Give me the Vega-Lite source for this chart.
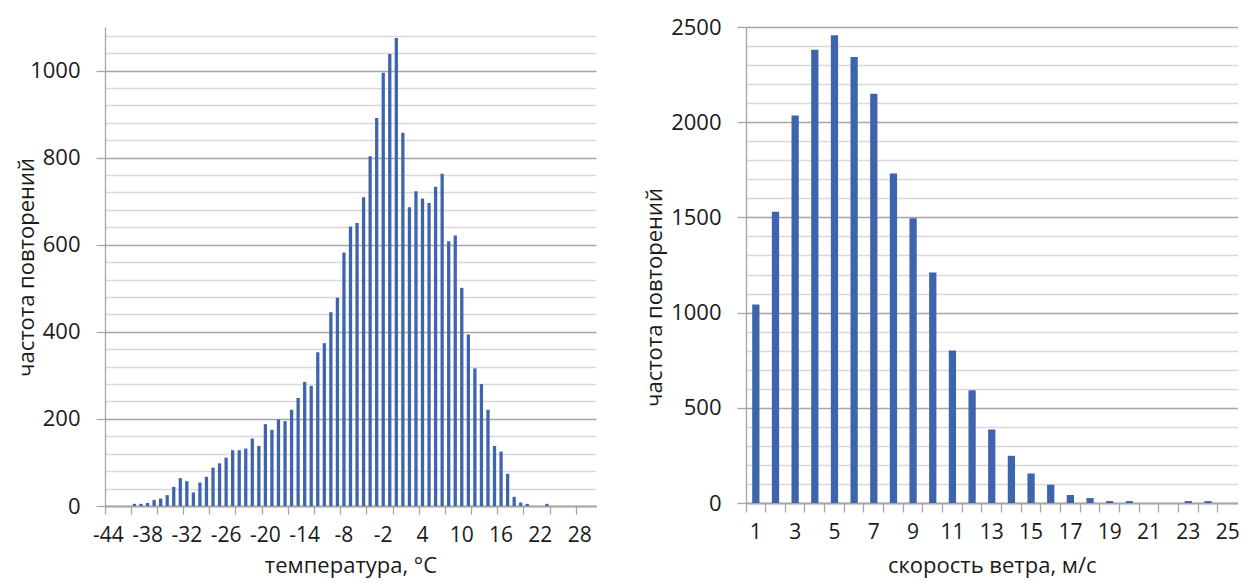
{
  "$schema": "https://vega.github.io/schema/vega-lite/v6.json",
  "autosize": {"type": "pad"},
  "padding": {"left": 15, "top": 16, "right": 0, "bottom": 4},
  "background": "white",
  "spacing": 47,
  "config": {
    "view": {"stroke": null},
    "font": "Open Sans",
    "axis": {
      "labelFont": "Open Sans",
      "titleFont": "Open Sans",
      "labelFontSize": 22,
      "titleFontSize": 22,
      "titleFontWeight": "normal",
      "labelColor": "#1a1a1a",
      "titleColor": "#1a1a1a",
      "domainColor": "#a6a6a6",
      "tickColor": "#a6a6a6",
      "domainWidth": 1.3,
      "tickWidth": 1.3
    }
  },
  "datasets": {
    "temp": [
      {"t": -40, "n": 5}, {"t": -39, "n": 5}, {"t": -38, "n": 7}, {"t": -37, "n": 14},
      {"t": -36, "n": 17}, {"t": -35, "n": 25}, {"t": -34, "n": 44}, {"t": -33, "n": 64},
      {"t": -32, "n": 57}, {"t": -31, "n": 31}, {"t": -30, "n": 54}, {"t": -29, "n": 67},
      {"t": -28, "n": 88}, {"t": -27, "n": 98}, {"t": -26, "n": 111}, {"t": -25, "n": 128},
      {"t": -24, "n": 128}, {"t": -23, "n": 132}, {"t": -22, "n": 155}, {"t": -21, "n": 138},
      {"t": -20, "n": 188}, {"t": -19, "n": 175}, {"t": -18, "n": 199}, {"t": -17, "n": 195},
      {"t": -16, "n": 221}, {"t": -15, "n": 248}, {"t": -14, "n": 285}, {"t": -13, "n": 276},
      {"t": -12, "n": 353}, {"t": -11, "n": 374}, {"t": -10, "n": 445}, {"t": -9, "n": 478},
      {"t": -8, "n": 582}, {"t": -7, "n": 642}, {"t": -6, "n": 650}, {"t": -5, "n": 709},
      {"t": -4, "n": 803}, {"t": -3, "n": 891}, {"t": -2, "n": 995}, {"t": -1, "n": 1038},
      {"t": 0, "n": 1075}, {"t": 1, "n": 857}, {"t": 2, "n": 686}, {"t": 3, "n": 723},
      {"t": 4, "n": 706}, {"t": 5, "n": 696}, {"t": 6, "n": 733}, {"t": 7, "n": 763},
      {"t": 8, "n": 608}, {"t": 9, "n": 621}, {"t": 10, "n": 501}, {"t": 11, "n": 394},
      {"t": 12, "n": 316}, {"t": 13, "n": 280}, {"t": 14, "n": 221}, {"t": 15, "n": 138},
      {"t": 16, "n": 125}, {"t": 17, "n": 74}, {"t": 18, "n": 21}, {"t": 19, "n": 8},
      {"t": 20, "n": 5}, {"t": 23, "n": 5}
    ],
    "wind": [
      {"w": 1, "n": 1042}, {"w": 2, "n": 1530}, {"w": 3, "n": 2035}, {"w": 4, "n": 2380},
      {"w": 5, "n": 2457}, {"w": 6, "n": 2342}, {"w": 7, "n": 2150}, {"w": 8, "n": 1731},
      {"w": 9, "n": 1496}, {"w": 10, "n": 1211}, {"w": 11, "n": 801}, {"w": 12, "n": 592},
      {"w": 13, "n": 386}, {"w": 14, "n": 248}, {"w": 15, "n": 155}, {"w": 16, "n": 96},
      {"w": 17, "n": 42}, {"w": 18, "n": 26}, {"w": 19, "n": 10}, {"w": 20, "n": 10},
      {"w": 23, "n": 10}, {"w": 24, "n": 10}
    ]
  },
  "hconcat": [
    {
      "width": 491,
      "height": 479,
      "data": {"name": "temp"},
      "encoding": {
        "y": {
          "field": "n",
          "type": "quantitative",
          "scale": {"domain": [0, 1100], "nice": false},
          "axis": {
            "title": "частота повторений",
            "values": [0,40,80,120,160,200,240,280,320,360,400,440,480,520,560,600,640,680,720,760,800,840,880,920,960,1000,1040,1080],
            "format": "d",
            "labelExpr": "datum.value % 200 === 0 ? datum.label : ''",
            "labelPadding": 16,
            "tickSize": 9,
            "tickOpacity": {"condition": {"test": "datum.value % 200 === 0", "value": 1}, "value": 0},
            "grid": true,
            "gridColor": {"condition": {"test": "datum.value % 200 === 0", "value": "#a6a6a6"}, "value": "#d9d9d9"},
            "gridWidth": 1.3,
            "minExtent": 80,
            "maxExtent": 80,
            "titleBaseline": "alphabetic",
            "titleX": -72,
            "titleY": 240
          }
        }
      },
      "layer": [
        {
          "mark": {"type": "bar", "color": "#3e64ad", "width": {"band": 0.5}},
          "encoding": {
            "x": {
              "field": "t",
              "type": "ordinal",
              "scale": {
                "domain": [-44,-43,-42,-41,-40,-39,-38,-37,-36,-35,-34,-33,-32,-31,-30,-29,-28,-27,-26,-25,-24,-23,-22,-21,-20,-19,-18,-17,-16,-15,-14,-13,-12,-11,-10,-9,-8,-7,-6,-5,-4,-3,-2,-1,0,1,2,3,4,5,6,7,8,9,10,11,12,13,14,15,16,17,18,19,20,21,22,23,24,25,26,27,28,29,30],
                "paddingInner": 0,
                "paddingOuter": 0
              },
              "axis": {
                "orient": "bottom",
                "title": "температура, °C",
                "values": [-44,-38,-32,-26,-20,-14,-8,-2,4,10,16,22,28],
                "bandPosition": 0.5,
                "labelAngle": 0,
                "labelAlign": "center",
                "labelBaseline": "alphabetic",
                "labelPadding": 35,
                "labelFontSize": 21,
                "ticks": false,
                "tickSize": 8,
                "grid": false,
                "titleBaseline": "alphabetic",
                "titleY": 66
              }
            }
          }
        },
        {
          "mark": {"type": "bar", "color": "#3e64ad", "opacity": 0, "width": {"band": 0.5}},
          "encoding": {
            "x": {
              "field": "t",
              "type": "ordinal",
              "axis": {
                "orient": "bottom",
                "title": null,
                "values": [-44,-40,-36,-32,-28,-24,-20,-16,-12,-8,-4,0,4,8,12,16,20,24,28],
                "bandPosition": 0,
                "labels": false,
                "tickSize": 8,
                "grid": false
              }
            }
          }
        }
      ],
      "resolve": {"axis": {"x": "independent"}}
    },
    {
      "width": 491.5,
      "height": 476,
      "data": {"name": "wind"},
      "encoding": {
        "y": {
          "field": "n",
          "type": "quantitative",
          "scale": {"domain": [0, 2500], "nice": false},
          "axis": {
            "title": "частота повторений",
            "values": [0,100,200,300,400,500,600,700,800,900,1000,1100,1200,1300,1400,1500,1600,1700,1800,1900,2000,2100,2200,2300,2400,2500],
            "format": "d",
            "labelExpr": "datum.value % 500 === 0 ? datum.label : ''",
            "labelPadding": 16,
            "tickSize": 9,
            "tickOpacity": {"condition": {"test": "datum.value % 500 === 0", "value": 1}, "value": 0},
            "grid": true,
            "gridColor": {"condition": {"test": "datum.value % 500 === 0", "value": "#a6a6a6"}, "value": "#d9d9d9"},
            "gridWidth": 1.3,
            "minExtent": 80,
            "maxExtent": 80,
            "titleBaseline": "alphabetic",
            "titleX": -85,
            "titleY": 270
          }
        }
      },
      "layer": [
        {
          "mark": {"type": "bar", "color": "#3e64ad", "width": {"band": 0.37}},
          "encoding": {
            "x": {
              "field": "w",
              "type": "ordinal",
              "scale": {
                "domain": [1,2,3,4,5,6,7,8,9,10,11,12,13,14,15,16,17,18,19,20,21,22,23,24,25],
                "paddingInner": 0,
                "paddingOuter": 0
              },
              "axis": {
                "orient": "bottom",
                "title": "скорость ветра, м/с",
                "values": [1,3,5,7,9,11,13,15,17,19,21,23,25],
                "bandPosition": 0.5,
                "labelAngle": 0,
                "labelAlign": "center",
                "labelBaseline": "alphabetic",
                "labelPadding": 35,
                "labelFontSize": 21,
                "ticks": false,
                "tickSize": 9,
                "grid": false,
                "titleBaseline": "alphabetic",
                "titleY": 69
              }
            }
          }
        },
        {
          "mark": {"type": "bar", "color": "#3e64ad", "opacity": 0, "width": {"band": 0.37}},
          "encoding": {
            "x": {
              "field": "w",
              "type": "ordinal",
              "axis": {
                "orient": "bottom",
                "title": null,
                "bandPosition": 0,
                "labels": false,
                "tickSize": 9,
                "grid": false
              }
            }
          }
        }
      ],
      "resolve": {"axis": {"x": "independent"}}
    }
  ]
}
